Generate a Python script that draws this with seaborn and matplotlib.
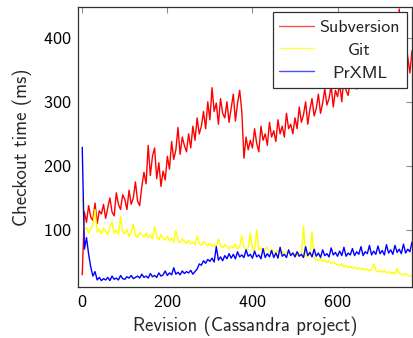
import matplotlib
matplotlib.use("Agg")
import matplotlib.pyplot as plt
import seaborn as sns
import pandas as pd

# ---------------- data ----------------
revisions = list(range(0, 776, 5))

subversion = [
    30, 128, 112, 138, 120, 115, 142, 110, 130, 125,
    140, 118, 135, 150, 128, 122, 158, 140, 132, 155,
    148, 132, 162, 140, 150, 175, 145, 138, 168, 190,
    172, 232, 185, 215, 228, 180, 205, 168, 192, 178,
    215, 195, 238, 210, 225, 260, 218, 245, 232, 222,
    250, 228, 262, 240, 275, 250, 262, 285, 258, 300,
    272, 322, 285, 298, 265, 305, 282, 275, 300, 268,
    290, 312, 270, 298, 318, 285, 212, 245, 225, 240,
    228, 258, 235, 222, 262, 240, 250, 232, 268, 245,
    255, 238, 272, 250, 262, 245, 282, 258, 265, 250,
    275, 258, 292, 268, 280, 300, 265, 288, 305, 278,
    290, 312, 282, 298, 320, 295, 305, 325, 292, 318,
    308, 328, 300, 340, 318, 310, 335, 322, 348, 320,
    332, 355, 325, 345, 338, 365, 340, 352, 368, 345,
    360, 378, 350, 385, 368, 375, 395, 365, 385, 445,
    375, 405, 388, 370, 345, 380,
]

git = [
    150, 100, 104, 95, 102, 108, 132, 97, 101, 94,
    103, 98, 92, 106, 112, 95, 100, 93, 121, 97,
    94, 101, 90, 96, 109, 92, 88, 97, 93, 89,
    95, 88, 92, 86, 105, 90, 85, 93, 87, 84,
    90, 83, 87, 81, 99, 84, 80, 86, 82, 79,
    84, 78, 81, 77, 91, 79, 76, 82, 78, 75,
    79, 74, 77, 73, 86, 75, 72, 77, 74, 71,
    75, 72, 77, 70, 74, 91, 73, 69, 72, 95,
    70, 67, 100, 69, 72, 66, 70, 73, 65, 69,
    66, 64, 69, 63, 67, 62, 66, 64, 61, 65,
    62, 60, 64, 59, 106, 61, 58, 62, 97, 57,
    54, 52, 55, 51, 53, 49, 52, 48, 50, 47,
    46, 44, 47, 42, 45, 41, 43, 40, 42, 39,
    41, 38, 40, 37, 39, 36, 38, 47, 37, 35,
    36, 34, 37, 33, 35, 32, 34, 31, 40, 32,
    31, 30, 32, 29, 28, 27,
]

prxml = [
    229, 70, 88, 62, 42, 28, 35, 22, 26, 21,
    24, 22, 26, 21, 28, 23, 25, 22, 29, 24,
    23, 27, 25, 29, 24, 26, 28, 25, 31, 26,
    28, 25, 32, 27, 29, 26, 33, 28, 30, 36,
    29, 33, 30, 41, 31, 34, 30, 36, 32, 35,
    33, 37, 31, 35, 39, 47, 45, 52, 48, 54,
    51, 56, 50, 74, 53, 58, 52, 60, 55, 63,
    56, 62, 55, 66, 58, 61, 57, 69, 59, 62,
    56, 67, 58, 61, 55, 71, 57, 63, 58, 68,
    57, 64, 56, 73, 59, 62, 57, 69, 60, 64,
    58, 66, 59, 62, 57, 74, 60, 65, 58, 70,
    59, 64, 57, 69, 60, 63, 58, 72, 61, 65,
    59, 67, 60, 73, 59, 64, 61, 71, 60, 66,
    62, 74, 60, 66, 63, 76, 61, 67, 62, 75,
    63, 68, 61, 77, 64, 69, 62, 76, 65, 70,
    63, 78, 64, 70, 66, 81,
]

series_names = ["Subversion", "Git", "PrXML"]
series_colors = ["#ff0000", "#ffff00", "#0000ff"]
x_ticks = [0, 200, 400, 600]
y_ticks = [100, 200, 300, 400]

# ---------------- styling ----------------
sns.set_theme(style="white")
plt.rcParams["font.family"] = ["cmss10", "DejaVu Sans"]
plt.rcParams["axes.formatter.use_mathtext"] = True
FS_TICK = 13
FS_LABEL = 13.5
FS_LEG = 13

df = pd.concat([
    pd.DataFrame({"Revision": revisions, "Time": vals, "System": name})
    for name, vals in zip(series_names, [subversion, git, prxml])
], ignore_index=True)

fig = plt.figure(figsize=(4.13, 3.38), dpi=100)
ax = fig.add_axes([78 / 413, 51 / 338, 334 / 413, 280 / 338])

sns.lineplot(data=df, x="Revision", y="Time", hue="System",
             hue_order=series_names, palette=series_colors,
             linewidth=1.0, ax=ax, legend=True, estimator=None)

ax.set_xlim(-10, 775)
ax.set_ylim(11, 448)
ax.set_xticks(x_ticks)
ax.set_yticks(y_ticks)
ax.tick_params(direction="in", length=4.5, width=0.8, color="#909090",
               top=True, right=True, labelsize=FS_TICK, labelcolor="black", pad=5)
for s in ax.spines.values():
    s.set_color("#303030")
    s.set_linewidth(0.9)
ax.set_xlabel("Revision (Cassandra project)", fontsize=FS_LABEL, labelpad=5)
ax.set_ylabel("Checkout time (ms)", fontsize=FS_LABEL, labelpad=8)

handles, labels = ax.get_legend_handles_labels()
leg = ax.legend(handles, labels, loc="upper right", fancybox=False,
                edgecolor="#303030", framealpha=1, fontsize=FS_LEG,
                handlelength=1.9, handletextpad=0.3, borderaxespad=0.3,
                labelspacing=0.4, borderpad=0.38)
leg.get_frame().set_linewidth(0.9)
for h in leg.get_lines():
    h.set_linewidth(1.0)
    h.set_alpha(0.7)

fig.canvas.draw()
texts = leg.get_texts()
widths = [t.get_window_extent().width for t in texts]
wmax = max(widths)
for t, w in zip(texts, widths):
    t.set_x((wmax - w) / 2)

fig.savefig("out.png", dpi=100)
